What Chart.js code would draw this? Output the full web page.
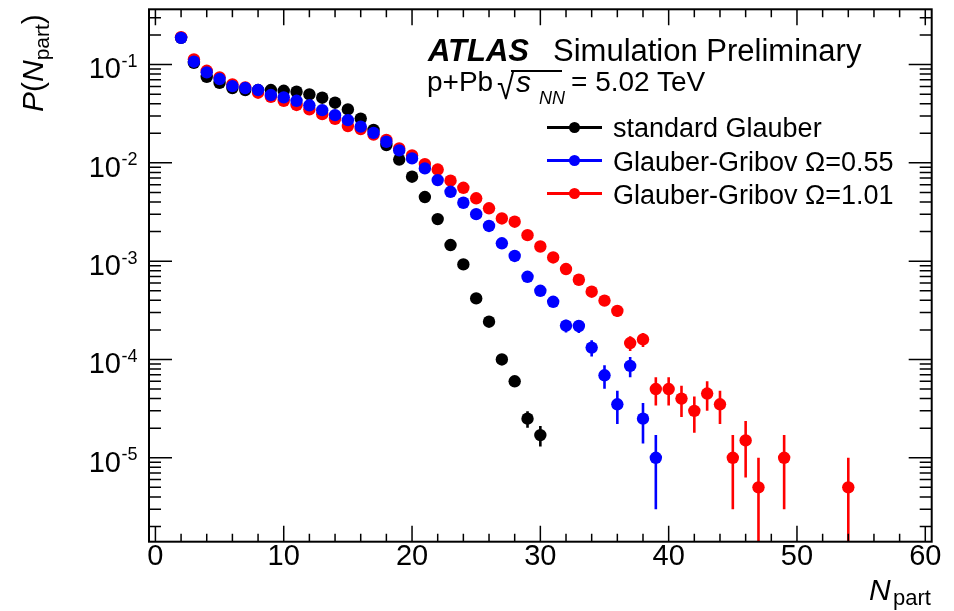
<!DOCTYPE html>
<html>
<head>
<meta charset="utf-8">
<title>P(Npart) p+Pb</title>
<script src="https://cdn.jsdelivr.net/npm/chart.js@4.4.0/dist/chart.umd.min.js"></script>
<style>
    html, body { margin: 0; padding: 0; background: #fff; }
    #wrap { position: relative; width: 954px; height: 611px; font-family: "Liberation Sans", Arial, sans-serif; color: #000; }
    #chart { position: absolute; left: 0; top: 0; }
    .txt { position: absolute; white-space: nowrap; line-height: 1; }
    .ylab { font-size: 29px; }
    .yexp { font-size: 18px; }
    .leg { font-size: 27px; left: 613px; }
    .legline { position: absolute; left: 547px; width: 55px; height: 3px; }
    .legdot { position: absolute; left: 569px; width: 11px; height: 11px; border-radius: 50%; }
</style>
</head>
<body>
<div id="wrap">
    <canvas id="chart" width="954" height="611"></canvas>

    <div class="txt" style="left:428px; top:35px; font-size:31px;"><b><i>ATLAS</i></b></div>
    <div class="txt" style="left:553px; top:35px; font-size:31px;">Simulation Preliminary</div>

    <!-- p+Pb sqrt(s_NN) line, built from pieces -->
    <div class="txt" style="left:427px; top:68px; font-size:28px;">p+Pb</div>
    <div class="txt" style="left:497px; top:68px; font-size:32px; transform:scaleY(1.15); transform-origin:left top;">&radic;</div>
    <div style="position:absolute; left:511px; top:70px; width:51px; height:2px; background:#000;"></div>
    <div class="txt" style="left:516px; top:67px; font-size:30px;"><i>s</i></div>
    <div class="txt" style="left:539px; top:89px; font-size:18px;"><i>NN</i></div>
    <div class="txt" style="left:571px; top:68px; font-size:28px;">= 5.02 TeV</div>

    <div class="legline" style="top:126px; background:#000;"></div>
    <div class="legdot" style="top:122px; background:#000;"></div>
    <div class="txt leg" style="top:115px;">standard Glauber</div>

    <div class="legline" style="top:159px; background:#0000ff;"></div>
    <div class="legdot" style="top:155px; background:#0000ff;"></div>
    <div class="txt leg" style="top:149px;">Glauber-Gribov &Omega;=0.55</div>

    <div class="legline" style="top:192px; background:#ff0000;"></div>
    <div class="legdot" style="top:188px; background:#ff0000;"></div>
    <div class="txt leg" style="top:182px;">Glauber-Gribov &Omega;=1.01</div>

    <!-- axis titles -->
    <div class="txt" style="left:869px; top:575px; font-size:30px;"><i>N</i></div>
    <div class="txt" style="left:893px; top:587px; font-size:22px;">part</div>
    <div class="txt" style="left:18px; top:112px; font-size:30px; transform:rotate(-90deg); transform-origin:left top;"><i>P</i>(<i>N</i><span style="font-size:21px; position:relative; top:6px;">part</span>)</div>
</div>

<script>
// Values
const nBlack = [2, 3, 4, 5, 6, 7, 8, 9, 10, 11, 12, 13, 14, 15, 16, 17, 18, 19, 20, 21, 22, 23, 24, 25, 26, 27, 28, 29, 30];
const pBlack = [0.187, 0.104, 0.0751, 0.0653, 0.0577, 0.0551, 0.0551, 0.0551, 0.0541, 0.0529, 0.0497, 0.0460, 0.0409, 0.0350, 0.0282,
                0.0216, 0.0152, 0.0108, 0.00723, 0.00449, 0.00268, 0.00146, 0.000927, 0.000418, 0.000242, 0.000100, 6.0e-5, 2.5e-5, 1.7e-5];
const eBlack = [0, 0, 0, 0, 0, 0, 0, 0, 0, 0, 0, 0, 0, 0, 0,
                0, 0, 0, 0, 0, 0, 0, 0, 0, 0, 0, 0.75e-5, 0.48e-5, 0.4e-5];

const nBlue = [2, 3, 4, 5, 6, 7, 8, 9, 10, 11, 12, 13, 14, 15, 16, 17, 18, 19, 20, 21,
               22, 23, 24, 25, 26, 27, 28, 29, 30, 31, 32, 33, 34, 35, 36, 37, 38, 39];
const pBlue = [0.187, 0.107, 0.0833, 0.0712, 0.0604, 0.0577, 0.0551, 0.0490, 0.0464, 0.0428, 0.0385, 0.0344, 0.0306, 0.0272, 0.0234,
               0.0202, 0.0164, 0.0134, 0.0111, 0.00879, 0.00668, 0.00508, 0.00393, 0.00301, 0.00228, 0.00152, 0.00113, 0.000694,
               0.000500, 0.000386, 0.000221, 0.000219, 0.000132, 6.9e-5, 3.5e-5, 8.6e-5, 2.5e-5, 1.0e-5];
const eBlue = [0, 0, 0, 0, 0, 0, 0, 0, 0, 0, 0, 0, 0, 0, 0,
               0, 0, 0, 0, 0, 0, 0, 0, 0, 0, 0, 0, 0,
               0, 4.4e-5, 3.3e-5, 3.3e-5, 2.5e-5, 1.85e-5, 1.3e-5, 2.0e-5, 1.1e-5, 0.7e-5];

const nRed = [2, 3, 4, 5, 6, 7, 8, 9, 10, 11, 12, 13, 14, 15, 16, 17, 18, 19, 20, 21, 22, 23, 24,
              25, 26, 27, 28, 29, 30, 31, 32, 33, 34, 35, 36, 37, 38, 39, 40, 41, 42, 43, 44, 45, 46, 47, 49, 54];
const pRed = [0.19, 0.113, 0.0865, 0.0741, 0.0629, 0.0586, 0.0517, 0.0470, 0.0428, 0.0388, 0.0350, 0.0313, 0.0281, 0.0237, 0.0221,
              0.0194, 0.0171, 0.0140, 0.0119, 0.00972, 0.00855, 0.00658, 0.00558, 0.00436, 0.00345, 0.00272, 0.00252, 0.00184,
              0.00141, 0.00109, 0.000832, 0.000647, 0.000489, 0.000397, 0.000312, 0.000147, 0.000160,
              5.0e-5, 5.0e-5, 4.0e-5, 3.0e-5, 4.5e-5, 3.5e-5, 1.0e-5, 1.5e-5, 5.0e-6, 1.0e-5, 5.0e-6];
const eRed = [0, 0, 0, 0, 0, 0, 0, 0, 0, 0, 0, 0, 0, 0, 0,
              0, 0, 0, 0, 0, 0, 0, 0, 0, 0, 0, 0, 0,
              0, 0, 0, 0, 0, 4.5e-5, 4.0e-5, 2.5e-5, 2.6e-5,
              1.6e-5, 1.6e-5, 1.4e-5, 1.2e-5, 1.5e-5, 1.3e-5, 0.7e-5, 0.87e-5, 0.5e-5, 0.7e-5, 0.5e-5];

// Axes
const xMin = -0.5, xMax = 60.5;
const yMin = 1.4e-6, yMax = 0.365;
const xLabelTicks = [0, 10, 20, 30, 40, 50, 60];
const yLabelExponents = [-1, -2, -3, -4, -5];

function points(xs, ys) {
    return xs.map((x, i) => ({ x: x, y: ys[i] }));
}

// Vertical error bars, drawn under the markers
const errorBars = {
    id: 'errorBars',
    beforeDatasetsDraw(chart) {
        const { ctx, chartArea: a, scales: { x, y } } = chart;
        ctx.save();
        ctx.beginPath();
        ctx.rect(a.left, a.top, a.width, a.height);
        ctx.clip();
        ctx.lineWidth = 2.6;
        chart.data.datasets.forEach(ds => {
            ctx.strokeStyle = ds.borderColor;
            ds.data.forEach((pt, j) => {
                const e = ds.errors[j];
                if (!e) return;
                const px = x.getPixelForValue(pt.x);
                const top = y.getPixelForValue(pt.y + e);
                const lo = pt.y - e;
                const bot = lo > yMin ? y.getPixelForValue(lo) : a.bottom;
                ctx.beginPath();
                ctx.moveTo(px, top);
                ctx.lineTo(px, bot);
                ctx.stroke();
            });
        });
        ctx.restore();
    }
};

// ROOT style frame with inner ticks on all four sides
const frameTicks = {
    id: 'frameTicks',
    afterDraw(chart) {
        const { ctx, chartArea: a, scales: { x, y } } = chart;
        ctx.save();
        ctx.strokeStyle = '#000';
        ctx.lineWidth = 1.5;
        ctx.beginPath();
        for (let v = 0; v <= 60; v += 2) {
            const px = x.getPixelForValue(v);
            const len = v % 10 === 0 ? 16 : 8;
            ctx.moveTo(px, a.bottom); ctx.lineTo(px, a.bottom - len);
            ctx.moveTo(px, a.top); ctx.lineTo(px, a.top + len);
        }
        for (let e = -7; e <= 0; e++) {
            for (let m = 1; m <= 9; m++) {
                const v = m * Math.pow(10, e);
                if (v < yMin || v > yMax) continue;
                const py = y.getPixelForValue(v);
                const len = m === 1 ? 23 : 12;
                ctx.moveTo(a.left, py); ctx.lineTo(a.left + len, py);
                ctx.moveTo(a.right, py); ctx.lineTo(a.right - len, py);
            }
        }
        ctx.stroke();
        ctx.lineWidth = 2;
        ctx.strokeRect(a.left, a.top, a.width, a.height);
        ctx.restore();
    }
};

const ctx = document.getElementById('chart').getContext('2d');

const chart = new Chart(ctx, {
    type: 'scatter',
    data: {
        datasets: [{
            label: 'standard Glauber',
            data: points(nBlack, pBlack),
            errors: eBlack,
            backgroundColor: '#000000',
            borderColor: '#000000',
            order: 2
        }, {
            label: 'Glauber-Gribov \u03A9=0.55',
            data: points(nBlue, pBlue),
            errors: eBlue,
            backgroundColor: '#0000ff',
            borderColor: '#0000ff',
            order: 0
        }, {
            label: 'Glauber-Gribov \u03A9=1.01',
            data: points(nRed, pRed),
            errors: eRed,
            backgroundColor: '#ff0000',
            borderColor: '#ff0000',
            order: 1
        }]
    },
    options: {
        responsive: false,
        animation: false,
        layout: { padding: { left: 149, right: 22.3, top: 9.3, bottom: 0 } },
        elements: { point: { radius: 6.2, borderWidth: 0, hoverRadius: 6.2 } },
        plugins: {
            legend: { display: false },
            tooltip: { enabled: false }
        },
        scales: {
            x: {
                type: 'linear',
                min: xMin,
                max: xMax,
                grid: { display: false, drawTicks: false },
                border: { display: false },
                afterBuildTicks: axis => { axis.ticks = xLabelTicks.map(v => ({ value: v })); },
                afterFit: axis => { axis.height = 69.3; },
                ticks: {
                    autoSkip: false,
                    maxRotation: 0,
                    padding: 1,
                    color: '#000',
                    font: { family: 'Liberation Sans', size: 29, lineHeight: 1 }
                }
            },
            y: {
                type: 'logarithmic',
                min: yMin,
                max: yMax,
                display: false
            }
        }
    },
    plugins: [errorBars, frameTicks]
});

// y tick labels 10^n as html text
const wrap = document.getElementById('wrap');
yLabelExponents.forEach(e => {
    const py = chart.scales.y.getPixelForValue(Math.pow(10, e));
    const base = document.createElement('div');
    base.className = 'txt ylab';
    base.textContent = '10';
    base.style.right = (954 - 121) + 'px';
    base.style.top = (py - 10.2) + 'px';
    wrap.appendChild(base);
    const sup = document.createElement('div');
    sup.className = 'txt yexp';
    sup.textContent = '-' + Math.abs(e);
    sup.style.left = '121.5px';
    sup.style.top = (py - 12.5) + 'px';
    wrap.appendChild(sup);
});
</script>
</body>
</html>
